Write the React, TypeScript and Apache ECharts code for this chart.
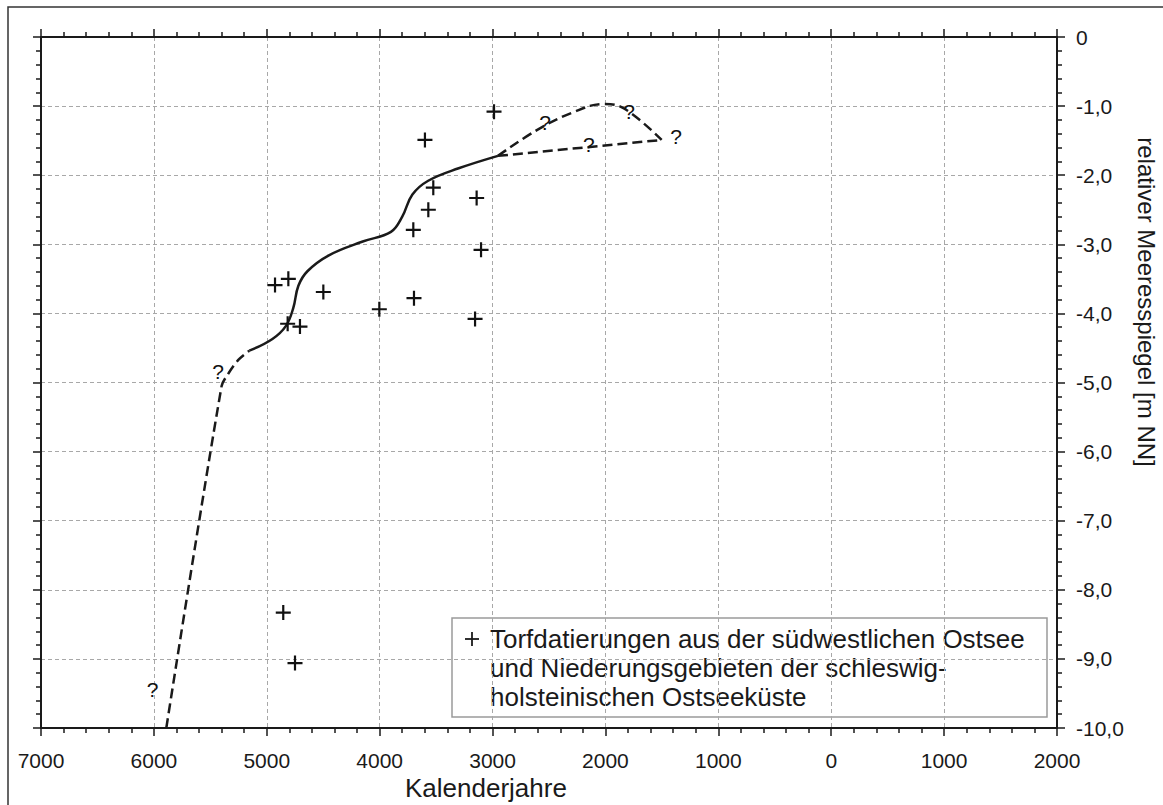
import React, { useEffect, useRef } from "react";
import * as echarts from "echarts";

// x: calendar year (BC negative), y: relative sea level [m NN]
const xTicks = { min: -7000, max: 2000, interval: 1000 };
const yTicks = { min: -10, max: 0, interval: 1 };

const peatDates: number[][] = [
  [-2987, -1.08],
  [-3599, -1.49],
  [-3525, -2.18],
  [-3141, -2.33],
  [-3569, -2.5],
  [-3702, -2.79],
  [-3102, -3.08],
  [-3155, -4.08],
  [-3696, -3.78],
  [-4003, -3.94],
  [-4499, -3.69],
  [-4927, -3.59],
  [-4809, -3.5],
  [-4815, -4.15],
  [-4706, -4.19],
  [-4854, -8.33],
  [-4750, -9.06],
];

const earlyDashed: number[][] = [
  [-5890, -10.0],
  [-5400, -5.05],
  [-5340, -4.87],
  [-5250, -4.67],
  [-5155, -4.54],
];

const solidCurve: number[][] = [
  [-5155, -4.54],
  [-4950, -4.37],
  [-4830, -4.18],
  [-4765, -3.92],
  [-4720, -3.6],
  [-4640, -3.39],
  [-4450, -3.16],
  [-4150, -2.96],
  [-3900, -2.82],
  [-3800, -2.6],
  [-3710, -2.28],
  [-3570, -2.08],
  [-3300, -1.9],
  [-2952, -1.72],
];

const upperBranch: number[][] = [
  [-2952, -1.72],
  [-2600, -1.34],
  [-2300, -1.1],
  [-2020, -0.97],
  [-1840, -1.03],
  [-1502, -1.49],
];

const lowerBranch: number[][] = [
  [-2952, -1.72],
  [-1502, -1.49],
];

const questionMarks: number[][] = [
  [-2535, -1.24],
  [-1791, -1.08],
  [-1375, -1.44],
  [-2146, -1.56],
  [-5432, -4.84],
  [-6011, -9.44],
];

const xTitle = "Kalenderjahre";
const yTitle = "relativer Meeresspiegel [m NN]";
const legendLines = [
  "Torfdatierungen aus der südwestlichen Ostsee",
  "und Niederungsgebieten der schleswig-",
  "holsteinischen Ostseeküste",
];

const FONT = "'Liberation Sans', Arial, Helvetica, sans-serif";
const INK = "#1a1a1a";

export default function App() {
  const ref = useRef<HTMLDivElement>(null);
  useEffect(() => {
    if (!ref.current) return;
    const chart = echarts.init(ref.current, null, { renderer: "svg" });

    const axisCommon = {
      type: "value" as const,
      axisLine: { show: true, onZero: false, lineStyle: { color: INK, width: 2 } },
      axisTick: { show: true, inside: false, length: 8, lineStyle: { color: INK, width: 1.5 } },
      minorTick: { show: true, splitNumber: 5, length: 5, lineStyle: { color: INK, width: 1.5 } },
    };

    const xLabel = (v: number) => String(Math.abs(v));
    const yLabel = (v: number) => (v === 0 ? "0" : v.toFixed(1).replace(".", ","));

    const lineSeries = (data: number[][], dashed: boolean, smooth: number | boolean) => ({
      type: "line",
      data,
      xAxisIndex: 0,
      yAxisIndex: 0,
      symbol: "none",
      smooth,
      lineStyle: { color: INK, width: 2.5, type: dashed ? [10, 5] : "solid" },
      z: 3,
    });

    chart.setOption({
      animation: false,
      backgroundColor: "#ffffff",
      textStyle: { fontFamily: FONT },
      grid: { left: 41, right: 106, top: 37, bottom: 77, containLabel: false },
      xAxis: [
        {
          ...axisCommon,
          position: "bottom",
          ...xTicks,
          axisLabel: { formatter: xLabel, fontSize: 21, color: INK, margin: 22, fontFamily: FONT },
          splitLine: { show: true, lineStyle: { color: "#a8a8a8", type: [4, 3], width: 1 } },
        },
        {
          ...axisCommon,
          position: "top",
          ...xTicks,
          axisLabel: { show: false },
          splitLine: { show: false },
        },
      ],
      yAxis: [
        {
          ...axisCommon,
          position: "right",
          ...yTicks,
          axisLabel: { formatter: yLabel, fontSize: 21, color: INK, margin: 19, fontFamily: FONT },
          splitLine: { show: true, lineStyle: { color: "#a8a8a8", type: [4, 3], width: 1 } },
        },
        {
          ...axisCommon,
          position: "left",
          ...yTicks,
          axisLabel: { show: false },
          splitLine: { show: false },
        },
      ],
      series: [
        lineSeries(earlyDashed, true, 0.3),
        lineSeries(solidCurve, false, 0.4),
        lineSeries(upperBranch, true, 0.4),
        lineSeries(lowerBranch, true, false),
        {
          type: "scatter",
          name: "Torfdatierungen",
          data: peatDates,
          symbol: "path://M6,0L6,12M0,6L12,6",
          symbolSize: 15,
          symbolKeepAspect: true,
          itemStyle: { color: "rgba(0,0,0,0)", borderColor: "#111", borderWidth: 2.2, opacity: 1 },
          z: 4,
        },
        {
          type: "scatter",
          data: questionMarks,
          symbol: "circle",
          symbolSize: 4,
          itemStyle: { color: "rgba(0,0,0,0)", opacity: 1 },
          label: {
            show: true,
            position: "inside",
            formatter: "?",
            fontSize: 21,
            color: "#111",
            opacity: 1,
            fontFamily: FONT,
            textBorderWidth: 0,
          },
          z: 5,
        },
      ],
      graphic: [
        {
          type: "rect",
          silent: true,
          z: -10,
          shape: { x: 8, y: 7, width: 1300, height: 1000 },
          style: { fill: "none", stroke: "#333", lineWidth: 1.5 },
        },
        {
          type: "text",
          x: 405,
          y: 788,
          style: { text: xTitle, font: `26px ${FONT}`, fill: INK, verticalAlign: "middle", align: "left" },
        },
        {
          type: "text",
          x: 1146,
          y: 302,
          rotation: -Math.PI / 2,
          style: { text: yTitle, font: `24px ${FONT}`, fill: INK, verticalAlign: "middle", align: "center" },
        },
        {
          type: "group",
          z: 50,
          children: [
            {
              type: "rect",
              shape: { x: 452, y: 618, width: 595, height: 99 },
              style: { fill: "#ffffff", stroke: "#9a9a9a", lineWidth: 1.5 },
            },
            {
              type: "line",
              shape: { x1: 465, y1: 639, x2: 479, y2: 639 },
              style: { stroke: INK, lineWidth: 1.8 },
            },
            {
              type: "line",
              shape: { x1: 472, y1: 632, x2: 472, y2: 646 },
              style: { stroke: INK, lineWidth: 1.8 },
            },
            {
              type: "text",
              x: 490,
              y: 624.5,
              style: {
                text: legendLines.join("\n"),
                font: `26px ${FONT}`,
                fill: INK,
                lineHeight: 29,
                verticalAlign: "top",
                align: "left",
              },
            },
          ],
        },
      ],
    });
    return () => chart.dispose();
  }, []);
  return (
    <div
      ref={ref}
      style={{ position: "absolute", left: 0, top: 0, width: 1163, height: 805, background: "#fff" }}
    />
  );
}
